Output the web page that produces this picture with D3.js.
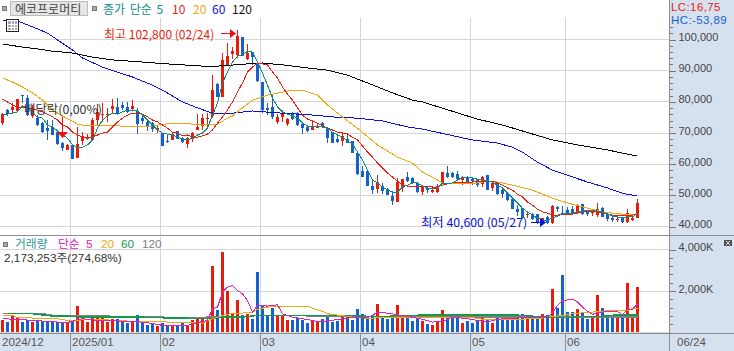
<!DOCTYPE html>
<html><head><meta charset="utf-8">
<script src="https://cdn.jsdelivr.net/npm/d3@7/dist/d3.min.js"></script>
<style>html,body{margin:0;padding:0;background:#fff}svg{display:block}text{font-family:"Noto Sans CJK KR","Liberation Sans",sans-serif;font-size:12px}</style>
</head><body><svg id="c" width="734" height="351"></svg>
<script>
const stockName = "에코프로머티";
// prices in thousand won, one entry per trading day
const open = [73.0,77.2,77.2,76.9,82.0,81.1,75.3,74.6,73.0,71.4,71.8,70.1,66.6,64.4,66.0,61.8,67.3,67.9,67.6,74.0,75.6,75.6,77.5,78.2,78.8,78.2,77.5,76.9,74.6,73.4,73.0,70.8,69.8,67.3,67.6,70.5,68.2,66.3,67.9,70.8,72.1,74.3,75.3,85.5,81.4,91.7,95.2,94.9,100.6,93.6,95.8,92.3,86.2,77.9,78.2,73.4,75.0,72.7,76.2,76.2,72.7,71.8,70.8,71.4,73.0,71.4,70.1,67.9,67.3,67.9,67.3,63.4,57.6,57.6,52.8,51.8,52.8,51.8,49.6,47.7,52.2,55.7,55.4,53.8,50.9,52.2,50.9,50.9,53.5,57.0,57.0,56.7,54.7,55.7,55.0,54.7,53.5,56.3,52.2,53.8,51.5,50.6,48.6,45.4,45.7,43.5,43.8,43.8,41.3,42.9,40.9,46.0,44.1,45.1,45.4,44.5,47.0,44.5,44.1,43.5,45.7,43.8,42.5,41.9,42.5,41.3,41.9,42.5];
const high = [76.2,77.5,79.5,80.7,82.0,82.0,78.8,75.6,73.4,74.0,74.0,70.8,66.9,66.3,66.0,71.8,70.1,69.5,74.6,79.1,79.5,77.9,80.7,81.1,79.8,79.8,80.4,77.9,75.6,73.7,73.4,72.4,69.8,69.2,70.1,70.5,68.5,68.5,70.1,75.9,75.9,76.2,88.4,86.0,95.5,98.7,97.4,102.8,100.6,98.4,95.8,92.6,86.2,79.5,82.0,75.9,77.2,74.6,76.6,76.6,73.4,72.4,73.7,73.0,73.4,71.8,70.1,69.2,70.1,69.8,67.3,63.4,59.2,57.6,54.4,56.3,53.8,52.2,50.9,55.4,55.0,57.3,55.7,54.1,53.1,52.8,52.8,53.5,57.3,59.2,57.3,57.6,56.0,56.0,55.4,55.0,56.0,56.3,54.1,54.1,52.2,50.9,48.6,46.7,45.7,44.5,44.1,43.8,42.5,43.2,46.7,46.4,46.4,46.0,46.4,47.0,47.0,45.1,45.1,47.4,46.0,44.5,43.5,42.9,42.9,45.4,43.5,48.6];
const low = [72.4,75.3,76.2,76.9,79.5,75.3,74.6,72.1,69.8,67.6,69.2,66.0,64.0,64.4,61.5,61.8,66.0,67.6,67.3,72.4,73.4,73.4,75.9,75.6,77.2,76.2,77.2,69.5,72.7,70.5,70.1,69.8,65.7,66.6,67.6,67.9,66.6,65.0,66.9,70.8,70.8,71.8,74.6,81.4,81.4,91.7,93.6,93.9,94.5,93.3,91.7,86.2,76.2,75.6,74.3,72.7,73.4,72.1,74.0,72.1,69.5,70.1,70.8,71.4,71.4,66.6,66.6,66.6,65.7,66.6,63.4,56.3,55.7,52.8,50.2,50.6,50.2,49.9,46.7,47.7,50.9,54.1,53.5,50.6,49.9,50.6,50.6,50.6,53.5,55.4,55.4,54.7,53.1,53.5,53.1,52.5,52.5,51.5,51.2,49.9,48.9,48.0,45.4,43.2,42.5,42.5,41.9,40.6,40.8,40.6,40.7,44.5,43.5,43.5,43.8,43.8,43.5,43.2,43.2,42.9,42.9,41.6,41.3,41.3,40.9,40.9,41.6,42.5];
const close = [75.9,75.8,78.2,80.7,81.7,75.6,77.2,72.4,70.1,70.5,69.2,66.3,65.0,66.0,61.5,66.3,68.9,68.2,74.0,76.6,75.9,75.9,78.5,75.9,77.9,76.6,78.5,72.7,73.7,71.8,71.1,71.4,65.7,66.9,69.5,67.9,66.9,68.2,69.8,71.8,74.6,74.6,83.6,81.4,93.3,94.5,96.1,101.0,94.5,95.5,94.2,86.5,77.2,77.2,75.0,75.0,76.2,74.3,74.3,72.4,71.4,70.5,71.8,71.8,71.8,68.2,66.6,66.9,68.9,66.6,63.4,56.7,55.7,52.8,51.5,54.1,51.2,49.9,48.0,54.1,55.0,54.4,53.8,50.9,52.5,51.5,51.5,52.8,57.3,55.7,55.7,55.0,55.7,54.1,54.4,53.1,55.7,51.5,53.8,50.2,50.2,48.3,45.4,44.5,42.5,43.8,42.2,40.9,42.5,40.9,46.4,45.4,43.8,43.8,44.1,46.4,43.8,43.8,44.5,45.4,42.9,42.2,41.9,42.2,41.3,44.1,42.5,47.4];
// volume in thousand shares
const volume = [560,460,750,670,460,560,460,590,510,510,480,480,500,430,510,1230,590,480,780,780,780,480,640,640,510,430,540,800,420,340,370,270,420,290,350,290,420,350,560,720,640,560,3200,1040,3870,2000,930,1520,830,880,610,2880,1250,800,1140,800,800,560,560,690,560,430,540,480,640,800,480,540,770,770,580,1090,850,770,800,1330,750,620,670,1280,670,670,530,690,530,380,320,510,1040,800,720,690,430,530,430,510,720,560,420,800,690,590,830,750,850,640,610,640,850,800,2050,1180,2770,940,940,1090,900,620,780,1760,1140,660,660,770,880,2340,800,2173];
// moving averages of price
const ma5 = [75.6,75.9,76.2,76.6,78.5,78.2,76.2,75.0,74.6,72.4,71.8,70.5,69.2,68.2,66.0,65.3,65.3,66.0,67.6,71.4,74.0,75.3,76.2,75.9,76.6,77.2,77.2,76.9,75.6,74.0,72.4,70.8,69.8,69.5,69.2,68.5,67.9,67.6,68.2,69.2,69.8,71.4,75.6,79.4,85.9,89.4,92.6,94.5,94.9,96.1,95.8,92.6,89.1,85.2,81.1,78.2,76.6,75.9,75.3,74.6,73.0,72.1,71.8,71.8,71.8,71.4,70.1,69.2,68.5,67.3,66.3,63.7,61.2,57.9,54.7,53.8,52.5,51.5,50.9,50.9,52.5,53.1,53.8,53.8,52.8,52.2,51.8,52.2,53.8,53.5,53.8,54.7,55.7,55.7,55.4,55.0,54.7,54.4,54.1,53.1,52.2,50.6,49.0,47.4,45.7,44.5,43.5,42.5,41.9,41.9,42.5,43.2,43.8,44.1,44.1,44.5,44.8,45.1,45.1,44.8,44.5,43.8,43.2,42.9,42.5,42.9,42.9,44.1];
const ma10 = [80.7,79.8,78.8,78.2,77.9,77.9,77.5,77.2,76.6,75.9,75.0,74.0,72.4,71.8,70.1,69.2,68.5,68.2,68.5,69.2,69.8,70.1,71.8,73.4,74.6,75.6,76.2,76.2,75.9,75.0,74.0,73.4,72.4,71.4,70.1,69.8,68.9,69.2,68.5,68.5,68.9,69.5,70.8,73.0,75.0,77.2,79.8,83.0,85.9,89.4,91.0,92.3,92.0,91.7,89.4,87.5,84.6,82.3,80.4,77.9,75.6,74.3,73.7,73.0,72.1,71.4,70.8,70.1,69.8,69.5,68.5,67.6,65.7,63.7,62.1,60.2,58.6,57.0,55.7,54.4,53.1,52.8,52.8,52.8,52.8,52.8,52.5,52.5,53.1,53.5,53.8,53.8,53.8,53.8,54.1,54.4,54.4,54.4,54.4,53.8,53.1,52.2,51.5,50.2,49.3,47.7,46.7,45.4,44.5,44.1,43.5,43.5,43.8,43.8,43.8,44.1,44.5,44.5,44.5,44.5,44.1,43.8,43.5,43.5,43.5,43.5,43.5,43.8];
const ma20Days = [0,2,4,6,8,10,12,15,17,21,23,24,26,29,31,34,38,40,43,45,46,48,50,53,57,60,63,65,68,71,75,79,82,84,86,88,90,94,96,98,100,102,106,110,113,117,120,124,127];
const ma20 = [87.5,86.2,84.6,82.7,80.4,77.2,75.3,72.7,72.1,72.1,72.4,71.8,71.8,71.8,72.4,73.0,72.7,72.4,72.7,74.6,75.3,77.9,80.4,82.0,83.3,83.6,82.0,78.8,75.0,71.4,66.0,62.1,60.2,57.3,55.7,53.8,53.5,53.5,54.1,54.4,53.8,53.1,51.5,48.9,47.4,45.7,44.5,43.8,43.8];
const ma60Days = [0,3,6,9,11,14,16,20,23,26,30,33,36,39,42,46,50,56,62,66,71,76,81,84,94,99,102,104,107,110,113,117,121,124,127];
const ma60 = [106.1,105.8,103.9,101.9,99.7,96.5,93.9,91.0,89.4,87.8,85.2,82.7,79.8,77.9,76.2,76.2,76.9,76.2,75.6,75.0,74.6,73.7,71.8,71.1,67.6,66.6,65.3,63.7,60.5,57.9,56.3,54.1,52.2,50.5,49.6];
const ma120Days = [0,4,7,10,14,18,22,28,33,40,43,49,52,56,61,65,69,73,78,82,84,95,100,110,115,121,127];
const ma120 = [98.4,97.4,96.8,96.1,95.5,94.2,93.3,92.6,92.0,91.3,91.3,92.0,92.3,91.7,90.7,90.0,88.4,85.9,82.7,80.4,79.8,74.3,72.4,67.6,66.0,64.4,62.4];
// moving averages of volume
const volMa5Days = [0,3,6,9,13,15,16,19,26,29,32,37,39,41,42,43,44,45,46,47,48,49,50,51,53,55,56,58,60,63,65,68,71,73,74,75,77,79,81,84,86,88,90,93,95,97,98,100,102,106,109,110,111,112,113,114,115,116,117,118,119,121,123,124,125,126,127];
const volMa5 = [640,610,560,510,450,600,640,560,510,450,320,320,450,560,1120,1200,1920,2160,2240,2000,1840,1520,960,1280,1250,1310,880,720,640,510,530,640,720,720,800,960,910,830,750,610,480,510,720,640,560,480,560,640,670,690,720,930,1280,1500,1550,1570,1450,1200,1000,850,930,990,990,830,1090,1090,1360];
const volMa20Days = [0,2,3,5,8,11,13,15,16,20,23,26,31,35,38,40,42,44,45,46,48,49,50,51,53,56,61,62,64,65,70,74,75,77,80,85,88,92,94,96,98,104,105,108,109,112,114,118,121,125,126,127];
const volMa20 = [800,800,690,690,640,640,560,560,590,590,560,510,510,450,450,430,640,800,850,910,910,960,960,1090,1200,1250,1250,1150,990,880,720,640,700,700,720,720,720,700,700,610,580,580,670,670,720,800,880,960,1020,1020,1150,1150];
const volMa60Days = [1,6,10,13,16,27,33,42,43,48,51,69,76,79,97,102,110,113,116,120,123,127];
const volMa60 = [880,880,770,770,720,720,680,640,720,720,800,800,720,800,830,830,690,690,750,750,830,830];
const volMa120Days = [0,8,10,21,22,32,34,40,41,48,51,68,82,97,127];
const volMa120 = [880,880,800,800,720,720,670,670,720,720,800,770,720,730,730];

const priceTicks = [40,50,60,70,80,90,100];
const volumeTicks = [2000,4000];
const monthStarts = [0,14,32,52,72,94,113];
const monthLabels = ["2024/12","2025/01","02","03","04","05","06"];
const lastDateLabel = "06/24";
const priceLegend = [["종가 단순 5","#0f8a86",103],["10","#ee1c10",172],["20","#efa90c",193],["60","#0a10e0",212],["120","#111",232]];
const volLegend = [["거래량","#2f9a9a",15],["단순 5","#e020b8",58],["20","#efa90c",101],["60","#139a4c",121],["120","#808080",142]];

const svg = d3.select("#c");
const W = 734, H = 351, axisX = 669, bottomY = 333;
const UP = "#e71c0d", DOWN = "#1660cb", GRID = "#d5d5d5", PANEL = "#d6e1ef", EDGE = "#8e8e8e";
const LATIN = '"Liberation Sans",sans-serif';
const LATIN_FIRST = '"Liberation Sans","Noto Sans CJK KR",sans-serif';

const x = d3.scaleBand().domain(d3.range(open.length)).range([0, open.length * 5]);
const cx = i => x(i) + 2.5;
const y = d3.scaleLinear().domain([40, 100]).range([226, 39]);
const yv = d3.scaleLinear().domain([0, 4000]).range([332, 249]);
const px = v => Math.round(v) + 0.5;

// panels
svg.append("rect").attr("x", axisX).attr("y", 0).attr("width", W - axisX).attr("height", H).attr("fill", PANEL);
svg.append("rect").attr("x", 0).attr("y", bottomY).attr("width", W).attr("height", H - bottomY).attr("fill", PANEL);

// grid
const grid = svg.append("g").attr("stroke", GRID).attr("shape-rendering", "crispEdges");
priceTicks.forEach(t => grid.append("line").attr("x1", 0).attr("x2", axisX).attr("y1", px(y(t))).attr("y2", px(y(t))));
[0, ...volumeTicks].forEach(t => grid.append("line").attr("x1", 0).attr("x2", axisX).attr("y1", px(yv(t))).attr("y2", px(yv(t))));
monthStarts.slice(1).forEach(i => {
  grid.append("line").attr("x1", x(i)+.5).attr("x2", x(i)+.5).attr("y1", 18).attr("y2", 235);
  grid.append("line").attr("x1", x(i)+.5).attr("x2", x(i)+.5).attr("y1", 237).attr("y2", bottomY);
});

// candles
const candle = svg.append("g").attr("shape-rendering", "crispEdges");
const col = i => close[i] >= open[i] ? UP : DOWN;
candle.selectAll("line").data(d3.range(open.length)).join("line")
  .attr("x1", i => x(i)+2.5).attr("x2", i => x(i)+2.5)
  .attr("y1", i => y(high[i])).attr("y2", i => y(low[i])).attr("stroke", col);
candle.selectAll("rect").data(d3.range(open.length)).join("rect")
  .attr("x", i => x(i)+1).attr("width", 3)
  .attr("y", i => y(Math.max(open[i], close[i])))
  .attr("height", i => Math.max(1, Math.abs(y(open[i]) - y(close[i]))))
  .attr("fill", col);

// price moving averages
const lineOf = (sc, days) => d3.line().x((d, k) => cx(days ? days[k] : k)).y(d => sc(d));
function draw(sc, vals, days, color, w) {
  svg.append("path").attr("d", lineOf(sc, days)(vals)).attr("fill", "none")
    .attr("stroke", color).attr("stroke-width", w || 1).attr("shape-rendering", "crispEdges");
}
draw(y, ma120, ma120Days, "#000");
draw(y, ma60, ma60Days, "#0a10e0");
draw(y, ma20, ma20Days, "#efa90c");
draw(y, ma10, null, "#ee1c10");
draw(y, ma5, null, "#0f8a7c");

// volume bars
svg.append("g").attr("shape-rendering", "crispEdges").selectAll("rect").data(volume).join("rect")
  .attr("x", (d, i) => x(i)+1).attr("width", 3)
  .attr("y", d => yv(d)).attr("height", d => yv(0) - yv(d))
  .attr("fill", (d, i) => col(i));
draw(yv, volMa120, volMa120Days, "#808080", 1.5);
draw(yv, volMa60, volMa60Days, "#139a4c", 1.5);
draw(yv, volMa20, volMa20Days, "#efa90c");
draw(yv, volMa5, volMa5Days, "#e020b8");

// separators
const sep = svg.append("g").attr("stroke", EDGE).attr("shape-rendering", "crispEdges");
sep.append("line").attr("x1", 0).attr("x2", W).attr("y1", 235.5).attr("y2", 235.5).attr("stroke-width", 1.5);
sep.append("line").attr("x1", 0).attr("x2", W).attr("y1", bottomY+.5).attr("y2", bottomY+.5).attr("stroke-width", 1.5);
sep.append("line").attr("x1", axisX+.5).attr("x2", axisX+.5).attr("y1", 0).attr("y2", H);
monthStarts.slice(1).forEach(i => sep.append("line").attr("x1", x(i)+.5).attr("x2", x(i)+.5).attr("y1", bottomY).attr("y2", H));

// right axes
const axisFont = g => g.call(s => s.select(".domain").remove())
  .call(s => s.selectAll(".tick line").attr("stroke", "#777").attr("shape-rendering", "crispEdges"))
  .call(s => s.selectAll(".tick text").attr("fill", "#444").attr("dy", "0.1em").style("font-size", "11px").style("font-family", LATIN));
svg.append("g").attr("transform", `translate(${axisX+.5},0.5)`)
  .call(d3.axisRight(y).tickValues(d3.range(40, 106, 2)).tickSize(3).tickFormat(""))
  .call(axisFont);
svg.append("g").attr("transform", `translate(${axisX+.5},0.5)`)
  .call(d3.axisRight(y).tickValues(priceTicks).tickSize(6).tickPadding(3).tickFormat(d => d3.format(",")(d*1000)))
  .call(axisFont);
svg.append("g").attr("transform", `translate(${axisX+.5},0.5)`)
  .call(d3.axisRight(yv).tickValues(d3.range(0, 4400, 400)).tickSize(3).tickFormat(""))
  .call(axisFont);
svg.append("g").attr("transform", `translate(${axisX+.5},0.5)`)
  .call(d3.axisRight(yv).tickValues(volumeTicks).tickSize(6).tickPadding(3).tickFormat(d => d3.format(",")(d) + "K"))
  .call(axisFont);

// labels helper
function label(t, lx, ly, color, size, family) {
  const s = svg.append("text").attr("x", lx).attr("y", ly).attr("fill", color).attr("dominant-baseline", "central").style("font-size", (size||12)+"px").text(t);
  if (family) s.style("font-family", family);
  return s;
}
// header
const sq = (sx, sy) => svg.append("rect").attr("x", sx).attr("y", sy).attr("width", 4).attr("height", 4).attr("fill", "#aaa").attr("stroke", "#777").attr("shape-rendering", "crispEdges");
sq(2, 6); sq(92, 6);
svg.append("rect").attr("x", 10.5).attr("y", 1.5).attr("width", 77).attr("height", 14).attr("fill", "#e6e6e6").attr("stroke", "#bbb").attr("shape-rendering", "crispEdges");
label(stockName, 15, 8.5, "#444", 12);
priceLegend.forEach(d => label(d[0], d[2], 8, d[1], 12).style("word-spacing", "2px"));

// table icon
const ic = svg.append("g").attr("shape-rendering", "crispEdges");
ic.append("rect").attr("x", 6.5).attr("y", 19.5).attr("width", 12).attr("height", 12).attr("fill", "#fff").attr("stroke", "#222");
ic.append("rect").attr("x", 8).attr("y", 21).attr("width", 9).attr("height", 9).attr("fill", "#aaa");
[11, 14].forEach(v => ic.append("line").attr("x1", v+.5).attr("x2", v+.5).attr("y1", 21).attr("y2", 30).attr("stroke", "#fff"));
[24, 27].forEach(v => ic.append("line").attr("x1", 8).attr("x2", 17).attr("y1", v+.5).attr("y2", v+.5).attr("stroke", "#fff"));

// high / low annotations
label("최고 102,800 (02/24)", 104, 33, "#e71c0d", 12);
label("최저 40,600 (05/27)", 421, 222, "#0a10c8", 12.3);
const arrows = svg.append("g").attr("shape-rendering", "crispEdges");
arrows.append("line").attr("x1", 221).attr("x2", 230).attr("y1", 33.5).attr("y2", 33.5).attr("stroke", "#ee1010");
svg.append("path").attr("d", "M230,29L236,33.5L230,38Z").attr("fill", "#ee1010");
arrows.append("line").attr("x1", 531).attr("x2", 540).attr("y1", 222.5).attr("y2", 222.5).attr("stroke", "#0a10e0");
svg.append("path").attr("d", "M540,218L546,222.5L540,227Z").attr("fill", "#0a10e0");

// ex-dividend marker
label("배당락(0,00%)", 24, 109, "#333", 12.4);
arrows.append("line").attr("x1", 62.5).attr("x2", 62.5).attr("y1", 117).attr("y2", 133).attr("stroke", "#ee1010");
svg.append("path").attr("d", "M57,132L68,132L62.5,138Z").attr("fill", "#ee1010");

// right-panel ratios
label("LC:16,75", 671, 6.5, "#ee1c10", 11.5, LATIN).style("letter-spacing", ".4px");
label("HC:-53,89", 671, 19.5, "#1660cb", 11.5, LATIN).style("letter-spacing", ".4px");

// volume header
sq(3, 242);
volLegend.forEach(d => label(d[0], d[2], 243.5, d[1], 11.8, LATIN_FIRST).style("word-spacing", "3px"));
label("2,173,253주(274,68%)", 4, 257.5, "#333", 11.8, LATIN_FIRST);

// date axis labels
monthStarts.forEach((i, k) => label(monthLabels[k], x(i) + 2, 342, "#555", 11.5, LATIN));
label(lastDateLabel, 677, 342, "#555", 11.5, LATIN);

// expand icon
const ex = svg.append("g");
ex.append("rect").attr("x", 724).attr("y", 240).attr("width", 8).attr("height", 6).attr("fill", "#555");
ex.append("path").attr("d", "M726,241L730,245M730,241L726,245").attr("stroke", "#fff").attr("stroke-width", .8);
</script></body></html>
